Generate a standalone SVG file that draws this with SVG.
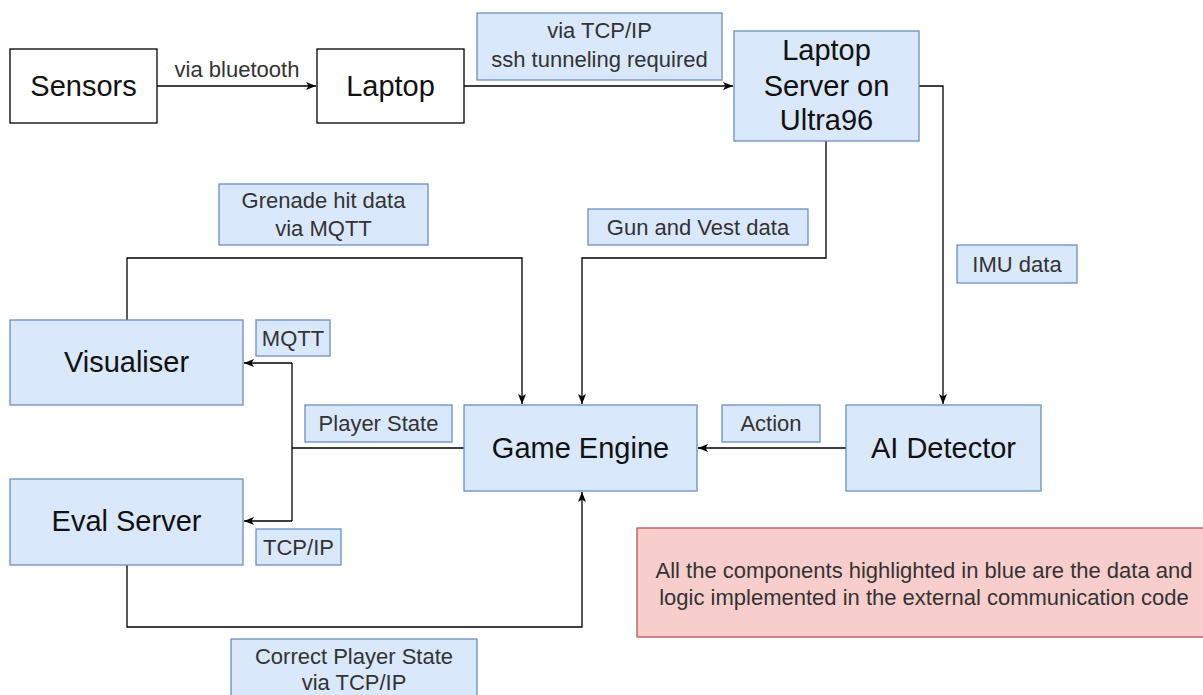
<svg xmlns="http://www.w3.org/2000/svg" width="1203" height="695" viewBox="0 0 1203 695">
<style>
.plain{fill:#ffffff;stroke:#000000;stroke-width:1.3}
.blue{fill:#dae8fc;stroke:#6c8ebf;stroke-width:1.3}
.red{fill:#f8cecc;stroke:#b85450;stroke-width:1.3}
.nt{font-family:"Liberation Sans",Arial,sans-serif;font-size:29px;fill:#111;text-anchor:middle}
.lt{font-family:"Liberation Sans",Arial,sans-serif;font-size:22px;fill:#333;text-anchor:middle}
.rt{font-family:"Liberation Sans",Arial,sans-serif;font-size:22px;fill:#333;text-anchor:middle}
.edge{fill:none;stroke:#000;stroke-width:1.3}
</style>
<defs>
<marker id="arr" viewBox="0 0 10 10" refX="10" refY="5" markerWidth="10" markerHeight="10" markerUnits="userSpaceOnUse" orient="auto">
<path d="M0,1 L10,5 L0,9 L2.5,5 Z" fill="#000"/>
</marker>
</defs>
<g id="connectors">
<path class="edge" d="M157,86 H316" marker-end="url(#arr)"/>
<path class="edge" d="M464,86 H733" marker-end="url(#arr)"/>
<path class="edge" d="M919,86 H943 V404" marker-end="url(#arr)"/>
<path class="edge" d="M826,141 V258 H582 V404" marker-end="url(#arr)"/>
<path class="edge" d="M127,320 V258 H522 V404" marker-end="url(#arr)"/>
<path class="edge" d="M846,448 H698" marker-end="url(#arr)"/>
<path class="edge" d="M464,448 H292"/>
<path class="edge" d="M292,363 V521"/>
<path class="edge" d="M292,363 H244" marker-end="url(#arr)"/>
<path class="edge" d="M292,521 H244" marker-end="url(#arr)"/>
<path class="edge" d="M127,565 V627 H582 V492" marker-end="url(#arr)"/>
</g>
<g id="sensors"><rect class="plain" x="10" y="49" width="147" height="74"/><text class="nt" x="83.5" y="96">Sensors</text></g>
<g id="laptop"><rect class="plain" x="317" y="49" width="147" height="74"/><text class="nt" x="390.5" y="96">Laptop</text></g>
<g id="label-bluetooth"><text class="lt" x="237" y="77">via bluetooth</text></g>
<g id="label-tcp"><rect class="blue" x="477" y="13" width="245" height="67"/><text class="lt" x="599.5" y="38">via TCP/IP</text><text class="lt" x="599.5" y="67">ssh tunneling required</text></g>
<g id="server"><rect class="blue" x="734" y="31" width="185" height="110"/><text class="nt" x="826.5" y="60">Laptop</text><text class="nt" x="826.5" y="96">Server on</text><text class="nt" x="826.5" y="130">Ultra96</text></g>
<g id="label-grenade"><rect class="blue" x="219" y="184" width="209" height="61"/><text class="lt" x="323.5" y="208">Grenade hit data</text><text class="lt" x="323.5" y="236">via MQTT</text></g>
<g id="label-gun"><rect class="blue" x="588" y="209" width="220" height="36"/><text class="lt" x="698" y="235">Gun and Vest data</text></g>
<g id="label-imu"><rect class="blue" x="957" y="245" width="120" height="38"/><text class="lt" x="1017" y="272">IMU data</text></g>
<g id="visualiser"><rect class="blue" x="10" y="320" width="233" height="85"/><text class="nt" x="126.5" y="372">Visualiser</text></g>
<g id="label-mqtt"><rect class="blue" x="256" y="320" width="74" height="36"/><text class="lt" x="293" y="346">MQTT</text></g>
<g id="label-playerstate"><rect class="blue" x="305" y="405" width="147" height="37"/><text class="lt" x="378.5" y="431">Player State</text></g>
<g id="game-engine"><rect class="blue" x="464" y="405" width="233" height="86"/><text class="nt" x="580.5" y="458">Game Engine</text></g>
<g id="label-action"><rect class="blue" x="722" y="405" width="98" height="37"/><text class="lt" x="771" y="431">Action</text></g>
<g id="ai-detector"><rect class="blue" x="846" y="405" width="195" height="86"/><text class="nt" x="943.5" y="458">AI Detector</text></g>
<g id="eval-server"><rect class="blue" x="10" y="479" width="233" height="86"/><text class="nt" x="126.5" y="531">Eval Server</text></g>
<g id="label-tcpip"><rect class="blue" x="256" y="529" width="85" height="36"/><text class="lt" x="298.5" y="555">TCP/IP</text></g>
<g id="note"><rect class="red" x="637" y="528" width="570" height="109"/><text class="rt" x="924" y="578">All the components highlighted in blue are the data and</text><text class="rt" x="924" y="605">logic implemented in the external communication code</text></g>
<g id="label-correct"><rect class="blue" x="231" y="639" width="246" height="60"/><text class="lt" x="354" y="664">Correct Player State</text><text class="lt" x="354" y="690">via TCP/IP</text></g>
</svg>
